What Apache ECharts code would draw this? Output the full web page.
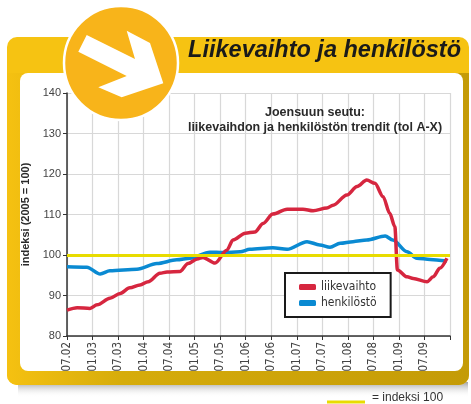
<!DOCTYPE html>
<html>
<head>
<meta charset="utf-8">
<script src="https://cdn.jsdelivr.net/npm/echarts@6/dist/echarts.min.js"></script>
<style>
  html, body { margin: 0; padding: 0; background: #fff; }
  #chart { width: 471px; height: 404px; }
</style>
</head>
<body>
<div id="chart"></div>
<script>
// aika desimaalivuosina (2002.5 = heinäkuu 2002)
const redTime = [2002.50, 2002.70, 2002.95, 2003.09, 2003.34, 2003.54, 2003.73, 2003.93, 2004.09, 2004.32,
  2004.46, 2004.71, 2004.87, 2005.05, 2005.16, 2005.40, 2005.63, 2005.75, 2005.99, 2006.18,
  2006.34, 2006.53, 2006.81, 2007.12, 2007.32, 2007.59, 2007.71, 2007.98, 2008.18, 2008.37,
  2008.53, 2008.69, 2008.82, 2008.92, 2008.97, 2009.16, 2009.28, 2009.55, 2009.67, 2009.80, 2009.94]
const redValues = [86.4, 87.0, 86.8, 87.7, 89.3, 90.5, 91.9, 92.6, 93.4, 95.5,
  95.8, 95.9, 97.9, 99.0, 99.4, 98.0, 101.2, 103.7, 105.4, 105.7,
  107.8, 110.1, 111.3, 111.3, 110.9, 111.6, 112.3, 114.8, 116.9, 118.5,
  117.7, 114.4, 110.3, 107.0, 96.3, 94.6, 94.2, 93.4, 94.6, 96.7, 99.2]

const blueTime = [2002.50, 2002.89, 2003.15, 2003.34, 2003.87, 2004.26, 2004.65, 2004.91, 2005.30, 2005.55,
  2005.89, 2006.08, 2006.53, 2006.81, 2007.20, 2007.45, 2007.65, 2007.85, 2008.10, 2008.37,
  2008.73, 2008.88, 2009.16, 2009.35, 2009.61, 2009.94]
const blueValues = [97.1, 97.0, 95.3, 96.1, 96.5, 97.9, 98.8, 99.2, 100.7, 100.6,
  100.8, 101.4, 101.8, 101.4, 103.3, 102.5, 101.9, 102.9, 103.3, 103.7,
  104.7, 103.7, 100.8, 99.2, 98.9, 98.5]

const tickLabels = ['07.02', '01.03', '07.03', '01.04', '07.04', '01.05', '07.05', '01.06',
  '07.06', '01.07', '07.07', '01.08', '07.08', '01.09', '07.09']

const seriesNames = ['liikevaihto', 'henkilöstö']
const indexLevel = 100

const NARROW = "'Liberation Sans Narrow', 'DejaVu Sans Condensed', sans-serif"
const SANS = "'Liberation Sans', Arial, sans-serif"

const chart = echarts.init(document.getElementById('chart'))

const pairs = (t, v) => t.map((x, i) => [x, v[i]])

const option = {
  animation: false,
  title: {
    text: 'Joensuun seutu:\nliikevaihdon ja henkilöstön trendit (tol A-X)',
    left: 310,
    top: 100,
    textAlign: 'center',
    textStyle: { fontFamily: SANS, fontSize: 12.5, fontWeight: 'bold', color: '#2a2a2a', lineHeight: 15 }
  },
  legend: {
    data: seriesNames,
    orient: 'vertical',
    left: 285,
    top: 273,
    padding: [7, 14, 7, 14],
    itemGap: 2,
    itemWidth: 17,
    itemHeight: 6,
    icon: 'roundRect',
    borderColor: '#1a1a1a',
    borderWidth: 2,
    backgroundColor: '#fff',
    textStyle: { fontFamily: NARROW, fontSize: 12, color: '#333', lineHeight: 14 }
  },
  grid: { left: 67, top: 93, right: 21, bottom: 68 },
  xAxis: {
    type: 'value',
    min: 2002.5,
    max: 2010,
    interval: 0.5,
    axisLine: { lineStyle: { color: '#333', width: 1.5 } },
    axisTick: { show: true, length: 4, lineStyle: { color: '#333' } },
    axisLabel: {
      rotate: 90,
      margin: 6,
      fontFamily: NARROW,
      fontSize: 11.5,
      color: '#444',
      formatter: v => tickLabels[Math.round((v - 2002.5) / 0.5)] || ''
    },
    splitLine: { show: true, lineStyle: { color: '#d8d8d8', width: 1.2 } }
  },
  yAxis: {
    type: 'value',
    min: 80,
    max: 140,
    interval: 10,
    name: 'indeksi (2005 = 100)',
    nameLocation: 'middle',
    nameGap: 26,
    nameTextStyle: { fontFamily: SANS, fontSize: 11, fontWeight: 'bold', color: '#2a2a2a' },
    axisLine: { show: true, lineStyle: { color: '#333', width: 1.5 } },
    axisTick: { show: true, length: 4, lineStyle: { color: '#333' } },
    axisLabel: { margin: 6, fontFamily: SANS, fontSize: 11, color: '#444' },
    splitLine: { show: true, lineStyle: { color: '#d8d8d8', width: 1.2 } }
  },
  series: [
    {
      // indeksi 100 -viiva
      type: 'line',
      data: [],
      z: 1,
      silent: true,
      markLine: {
        symbol: 'none',
        silent: true,
        label: { show: false },
        lineStyle: { color: '#E8DC00', width: 3, type: 'solid' },
        data: [{ yAxis: indexLevel }]
      }
    },
    {
      name: seriesNames[1],
      type: 'line',
      data: pairs(blueTime, blueValues),
      smooth: 0.3,
      smoothMonotone: 'x',
      showSymbol: false,
      z: 3,
      itemStyle: { color: '#0A8AD2' },
      lineStyle: { color: '#0A8AD2', width: 3.5 }
    },
    {
      name: seriesNames[0],
      type: 'line',
      data: pairs(redTime, redValues),
      smooth: 0.3,
      smoothMonotone: 'x',
      showSymbol: false,
      z: 4,
      itemStyle: { color: '#D6263F' },
      lineStyle: { color: '#D6263F', width: 3.5 }
    }
  ],
  graphic: [
    {
      type: 'rect', z: -30, silent: true,
      shape: { x: 18, y: 382, width: 450, height: 15 },
      style: {
        fill: new echarts.graphic.LinearGradient(0, 0, 0, 1, [
          { offset: 0, color: 'rgba(110,110,110,0.65)' },
          { offset: 1, color: 'rgba(255,255,255,0)' }
        ])
      }
    },
    {
      type: 'rect', z: -25, silent: true,
      shape: { x: 7, y: 37, width: 462, height: 348, r: 10 },
      style: { fill: '#F6C312' }
    },
    {
      type: 'rect', z: -24, silent: true,
      shape: { x: 7, y: 73, width: 462, height: 312, r: [0, 0, 10, 10] },
      style: {
        fill: new echarts.graphic.LinearGradient(0, 0, 1, 0, [
          { offset: 0, color: '#F5C111' },
          { offset: 0.25, color: '#D6AC0B' },
          { offset: 1, color: '#C49B07' }
        ])
      }
    },
    {
      type: 'rect', z: -20, silent: true,
      shape: { x: 20, y: 73, width: 443, height: 298, r: 8 },
      style: { fill: '#fff' }
    },
    {
      type: 'circle', z: 100, silent: true,
      shape: { cx: 121, cy: 63, r: 57 },
      style: { fill: '#F8B41A', stroke: '#fff', lineWidth: 2.5 }
    },
    {
      type: 'polygon', z: 101, silent: true,
      shape: {
        points: [[86.7, 35], [78.3, 51.7], [126.7, 76], [98.3, 87.3], [121.7, 97.3],
          [163.3, 83.3], [150, 43], [126.7, 30.7], [135, 59]]
      },
      style: { fill: '#fff' }
    },
    {
      type: 'text', z: 101, silent: true,
      style: {
        x: 461, y: 62,
        text: 'Liikevaihto ja henkilöstö',
        textAlign: 'right',
        textVerticalAlign: 'bottom',
        font: 'italic bold 23.5px ' + SANS,
        fill: '#1a1a1a'
      }
    },
    {
      type: 'line', z: 10, silent: true,
      shape: { x1: 327, y1: 402, x2: 365, y2: 402 },
      style: { stroke: '#E8DC00', lineWidth: 3 }
    },
    {
      type: 'text', z: 10, silent: true,
      style: {
        x: 372, y: 398,
        text: '= indeksi 100',
        textVerticalAlign: 'middle',
        font: '12px ' + SANS,
        fill: '#333'
      }
    }
  ]
}

chart.setOption(option)
</script>
</body>
</html>
